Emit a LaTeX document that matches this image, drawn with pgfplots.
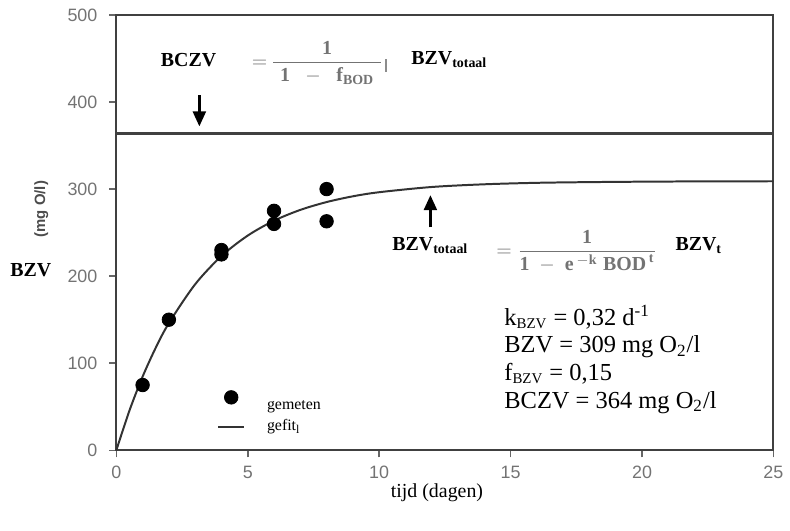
\documentclass[border=0pt]{standalone}
\usepackage{pgfplots}
\pgfplotsset{compat=1.18}
\usepackage{fontspec}
\setmainfont{Liberation Serif}
\newfontfamily\arialf{Liberation Sans}
\usetikzlibrary{arrows.meta}
\begin{document}
\begin{tikzpicture}
\begin{axis}[
  at={(0,0)}, anchor=origin,
  scale only axis, width=330.5pt, height=219pt,
  xmin=0, xmax=25, ymin=0, ymax=500,
  xtick={0,5,...,25}, ytick={0,100,...,500},
  axis line style={black!75, line width=1pt},
  tick style={black!60, line width=0.8pt},
  tick align=outside, major tick length=3.5pt,
  xtick pos=bottom, ytick pos=left,
  tick label style={font=\arialf\fontsize{9}{9}\selectfont, text=black!55},
  xticklabel style={yshift=-1pt},
  yticklabel style={xshift=-2.5pt},
  /pgf/number format/assume math mode=true,
  clip=false,
  legend style={draw=none, fill=none, at={(axis cs:3.6,67)}, anchor=north west,
    font=\fontsize{8}{8}\selectfont, row sep=-0.5pt},
  legend cell align=left,
]
\addplot[black!75, line width=1.2pt, forget plot] coordinates {(0,364) (25,364)};
\addplot[only marks, mark=*, mark size=3.4pt, black,
  legend image code/.code={\path[draw=none, fill=none] (0pt,0pt) -- (13pt,0pt); \fill[black, overlay] (6.5pt,4.5pt) circle (3.4pt);}] coordinates {
 (1,75) (2,150) (4,230) (4,225) (6,275) (6,260) (8,300) (8,263)};
\addlegendentry{\hspace{9pt}gemeten}
\addplot[black!80, line width=1pt, smooth,
  legend image code/.code={\draw[black!80, line width=1pt] (0pt,-0.5pt) -- (13pt,-0.5pt);}] coordinates {
 (0,0) (0.5,45.7) (1,84.6) (1.5,117.8) (2,146.1) (3,190.7) (4,223.1) (5,246.6)
 (6,263.7) (7,276.1) (8,285.1) (9,291.7) (10,296.4) (12,302.4) (14,305.5)
 (16,307.2) (18,308.0) (20,308.5) (22,308.8) (25,309)};
\addlegendentry{\hspace{9pt}gefit$_{\mathrm{l}}$}

% top formula
\node[font=\bfseries\fontsize{10}{10}\selectfont] at (axis cs:2.75,448.6) {BCZV};
\node[anchor=base, text=black!55, inner sep=0pt] at (axis cs:5.45,439.5) {$=$};
\node[anchor=base, text=black!55, inner sep=0pt] at (axis cs:8.02,439.5)
  {$\displaystyle \frac{\makebox[54pt]{$\mathbf{1}$}}{\mathbf{1}\;\;-\;\;\mathbf{f}_{\mathbf{BOD}}}$};
\draw[black!45, line width=0.8pt] (axis cs:10.25,449) -- (axis cs:10.25,435);
\node[font=\bfseries\fontsize{10}{10}\selectfont] at (axis cs:12.67,448.6) {BZV\textsubscript{\fontsize{7}{7}\selectfont totaal}};
\draw[-{Triangle[length=7.5pt,width=6.5pt]}, line width=1.2pt] (axis cs:3.16,408) -- (axis cs:3.16,372);
% lower formula
\draw[-{Triangle[length=7.5pt,width=6.5pt]}, line width=1.2pt] (axis cs:11.95,256) -- (axis cs:11.95,293);
\node[font=\bfseries\fontsize{10}{10}\selectfont] at (axis cs:11.95,235) {BZV\textsubscript{\fontsize{7}{7}\selectfont totaal}};
\node[anchor=base, text=black!55, inner sep=0pt] at (axis cs:14.75,222.6) {$=$};
\node[anchor=base, text=black!55, inner sep=0pt] at (axis cs:17.91,222.6)
  {$\displaystyle \frac{\makebox[67pt]{$\mathbf{1}$}}{\mathbf{1}\;-\;\mathbf{e}^{\,-\mathbf{k}}\;\mathbf{BOD}^{\,\mathbf{t}}}$};
\node[font=\bfseries\fontsize{10}{10}\selectfont] at (axis cs:22.16,235) {BZV\textsubscript{t}};
% parameter block
\begin{scope}[every node/.style={anchor=base west, inner sep=0pt, font=\fontsize{12.3}{12.3}\selectfont}]
\node at (axis cs:14.75,143.5) {k\textsubscript{\fontsize{7.5}{7.5}\selectfont BZV} = 0,32 d\textsuperscript{-1}};
\node at (axis cs:14.75,111.9) {BZV = 309 mg O\textsubscript{2}/l};
\node at (axis cs:14.75,80.3) {f\textsubscript{\fontsize{7.5}{7.5}\selectfont BZV} = 0,15};
\node at (axis cs:14.75,48.6) {BCZV = 364 mg O\textsubscript{2}/l};
\end{scope}
\node[font=\bfseries\fontsize{10}{10}\selectfont] at (axis cs:-3.25,207) {BZV};
\node[rotate=90, font=\arialf\bfseries\fontsize{7.5}{7.5}\selectfont, text=black!70] at (axis cs:-2.85,277) {(mg O/l)};
\node[font=\fontsize{10}{10}\selectfont] at (axis cs:12.2,-48.5) {tijd (dagen)};
\end{axis}
\path[use as bounding box] (-58.5pt,-40.5pt) rectangle (336.5pt,226.5pt);
\end{tikzpicture}
\end{document}
